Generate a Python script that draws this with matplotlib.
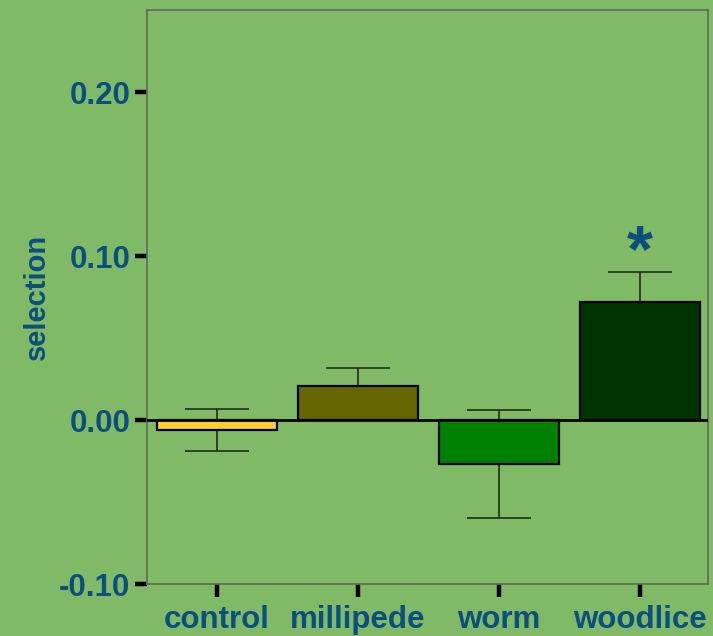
import matplotlib
matplotlib.use("Agg")
import matplotlib.pyplot as plt

categories = ["control", "millipede", "worm", "woodlice"]
values = [-0.006, 0.021, -0.027, 0.072]
errors = [0.013, 0.011, 0.033, 0.018]
bar_colors = ["#FFCC33", "#666600", "#007F00", "#003300"]
yticks = [-0.10, 0.00, 0.10, 0.20]
ytick_labels = ["-0.10", "0.00", "0.10", "0.20"]

bg = "#80BA66"
txt = "#0B4F7F"

plt.rcParams['font.family'] = ['Liberation Sans', 'DejaVu Sans']

fig = plt.figure(figsize=(7.13, 6.36), dpi=100, facecolor=bg)
ax = fig.add_axes([147/713, 1-584/636, (708-147)/713, (584-10)/636])
ax.set_facecolor(bg)

x = list(range(len(categories)))
ax.errorbar(x, values, yerr=errors, fmt='none', ecolor='#1f2d1a',
            elinewidth=1.2, capsize=23, capthick=1.2, zorder=1)
ax.bar(x, values, width=0.845, color=bar_colors, edgecolor='black',
       linewidth=1.6, zorder=2)
ax.axhline(0, color='black', linewidth=2, zorder=3)

ax.set_xlim(-0.496, 3.482)
ax.set_ylim(-0.10, 0.25)
ax.set_yticks(yticks)
ax.set_yticklabels(ytick_labels)
ax.set_xticks(x)
ax.set_xticklabels(categories)

for sp in ax.spines.values():
    sp.set_color('#5f6b55')
    sp.set_linewidth(1.2)

ax.tick_params(axis='both', direction='out', length=9, width=3.2,
               color='black', labelcolor=txt, labelsize=22.5, pad=3)
ax.tick_params(axis='x', pad=6)
for lab in ax.get_xticklabels() + ax.get_yticklabels():
    lab.set_fontweight('bold')

ax.set_ylabel("selection", color=txt, fontsize=21, fontweight='bold', labelpad=6)

ax.text(3, 0.091, "*", ha='center', va='baseline',
        color=txt, fontsize=48, fontweight='bold')

fig.savefig("out.png", dpi=100, facecolor=bg)
